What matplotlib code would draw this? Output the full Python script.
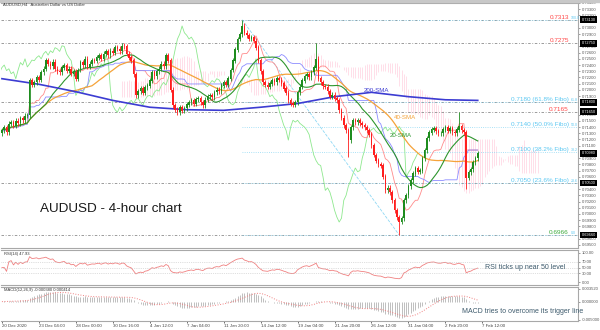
import numpy as np
import pandas as pd
import matplotlib
matplotlib.use("Agg")
import matplotlib.pyplot as plt
import matplotlib.transforms as mtransforms

plt.rcParams['font.family'] = ['Liberation Sans', 'DejaVu Sans']

# 4-hour closes, bar 0 = 20 Dec 2020
CLOSES = [
    0.7135, 0.7140, 0.7132, 0.7145, 0.7148, 0.7142, 0.7150, 0.7146, 0.7154, 0.7151,
    0.7158, 0.7159, 0.7215, 0.7208, 0.7212, 0.7220, 0.7216, 0.7228, 0.7234, 0.7247,
    0.7242, 0.7238, 0.7245, 0.7234, 0.7230, 0.7228, 0.7236, 0.7240, 0.7231, 0.7234,
    0.7226, 0.7229, 0.7218, 0.7232, 0.7244, 0.7240, 0.7250, 0.7237, 0.7242, 0.7248,
    0.7247, 0.7252, 0.7255, 0.7250, 0.7258, 0.7262, 0.7256, 0.7263, 0.7260, 0.7268,
    0.7266, 0.7262, 0.7271, 0.7270, 0.7258, 0.7252, 0.7247, 0.7225, 0.7191, 0.7198,
    0.7202, 0.7195, 0.7204, 0.7207, 0.7215, 0.7228, 0.7222, 0.7230, 0.7234, 0.7242,
    0.7238, 0.7255, 0.7247, 0.7200, 0.7175, 0.7168, 0.7164, 0.7172, 0.7166, 0.7170,
    0.7176, 0.7180, 0.7183, 0.7178, 0.7185, 0.7186, 0.7180, 0.7175, 0.7184, 0.7190,
    0.7191, 0.7188, 0.7196, 0.7200, 0.7198, 0.7207, 0.7212, 0.7208, 0.7218, 0.7232,
    0.7247, 0.7265, 0.7282, 0.7290, 0.7303, 0.7292, 0.7288, 0.7282, 0.7285, 0.7279,
    0.7268, 0.7247, 0.7230, 0.7212, 0.7208, 0.7205, 0.7210, 0.7215, 0.7212, 0.7218,
    0.7216, 0.7210, 0.7202, 0.7195, 0.7183, 0.7178, 0.7176, 0.7180, 0.7196, 0.7205,
    0.7215, 0.7222, 0.7225, 0.7220, 0.7228, 0.7236, 0.7250, 0.7218, 0.7212, 0.7206,
    0.7205, 0.7198, 0.7189, 0.7192, 0.7186, 0.7183, 0.7167, 0.7155, 0.7143, 0.7135,
    0.7119, 0.7140, 0.7151, 0.7148, 0.7151, 0.7146, 0.7143, 0.7140, 0.7135, 0.7128,
    0.7111, 0.7095, 0.7086, 0.7080, 0.7078, 0.7060, 0.7038, 0.7042, 0.7035, 0.7022,
    0.7006, 0.6995, 0.6987, 0.6993, 0.7022, 0.7030, 0.7045, 0.7054, 0.7065, 0.7074,
    0.7068, 0.7070, 0.7090, 0.7103, 0.7122, 0.7131, 0.7136, 0.7138, 0.7133, 0.7130,
    0.7130, 0.7136, 0.7140, 0.7134, 0.7138, 0.7132, 0.7130, 0.7136, 0.7141, 0.7135,
    0.7132, 0.7058, 0.7067, 0.7072, 0.7083, 0.7090, 0.7098,
]
FIRST_OPEN = 0.7130
WICK = 0.0004
HIGH_SPIKES = {104: 0.7313, 136: 0.7275, 198: 0.7165}
LOW_SPIKES = {150: 0.7091, 172: 0.6966, 201: 0.7041}

# 200-SMA read at a few bars
SMA200_BARS = [0, 16, 32, 48, 64, 80, 96, 112, 128, 144, 160, 176, 192, 206]
SMA200_VALUES = [0.7218, 0.7209, 0.7197, 0.7183, 0.7172, 0.7168, 0.7167,
                 0.7172, 0.7178, 0.7189, 0.7196, 0.7189, 0.7184, 0.7183]

TICK_LABELS = ['20 Dec 2020', '23 Dec 04:00', '28 Dec 00:00', '30 Dec 16:00',
               '4 Jan 12:00', '7 Jan 04:00', '11 Jan 20:00', '14 Jan 12:00',
               '19 Jan 04:00', '21 Jan 20:00', '26 Jan 12:00', '31 Jan 04:00',
               '2 Feb 20:00', '7 Feb 12:00']

GRAY_LEVELS = [0.7313, 0.7275, 0.7180, 0.7165, 0.7050, 0.6966]
FIBO_LEVELS = [0.7313, 0.7180, 0.7140, 0.7100, 0.7050, 0.6966]
FIBO_START = 104
LEVEL_TEXTS = [
    (0.7313, '0.7313', 'red', '100.0'),
    (0.7275, '0.7275', 'red', ''),
    (0.7180, '0.7180 (61.8% Fibo)', 'cyan', '61.8'),
    (0.7165, '0.7165', 'red', ''),
    (0.7140, '0.7140 (50.0% Fibo)', 'cyan', '50.0'),
    (0.7100, '0.7100 (38.2% Fibo)', 'cyan', '38.2'),
    (0.7050, '0.7050 (23.6% Fibo)', 'cyan', '23.6'),
    (0.6966, '0.6966', 'green', '0.0'),
]
BOX_LEVELS = [0.7313, 0.7275, 0.7180, 0.7165, 0.7098, 0.7050, 0.6966]

COLORS = {'red': '#ff4646', 'cyan': '#5cc8f2', 'green': '#3caa3c'}
BULL = '#1e8c1e'
BEAR = '#ff1e1e'

closes = np.array(CLOSES)
n = len(closes)
bars = np.arange(n)
opens = np.concatenate([[FIRST_OPEN], closes[:-1]])
highs = np.maximum(opens, closes) + WICK
lows = np.minimum(opens, closes) - WICK
for b, v in HIGH_SPIKES.items():
    highs[b] = v
for b, v in LOW_SPIKES.items():
    lows[b] = v

s_close = pd.Series(closes)
s_high = pd.Series(highs)
s_low = pd.Series(lows)
sma20 = s_close.rolling(20, min_periods=1).mean()
sma40 = s_close.rolling(40, min_periods=1).mean()
tenkan = (s_high.rolling(9, min_periods=1).max() + s_low.rolling(9, min_periods=1).min()) / 2
kijun = (s_high.rolling(26, min_periods=1).max() + s_low.rolling(26, min_periods=1).min()) / 2
span_a = (tenkan + kijun) / 2
span_b = (s_high.rolling(52, min_periods=1).max() + s_low.rolling(52, min_periods=1).min()) / 2

delta = s_close.diff().fillna(0)
gain = delta.clip(lower=0).ewm(alpha=1 / 14, adjust=False).mean()
loss = (-delta.clip(upper=0)).ewm(alpha=1 / 14, adjust=False).mean()
rsi = 100 - 100 / (1 + gain / loss.replace(0, np.nan))
rsi = rsi.fillna(50)

macd = s_close.ewm(span=12, adjust=False).mean() - s_close.ewm(span=26, adjust=False).mean()
signal = macd.rolling(9, min_periods=1).mean()

fig = plt.figure(figsize=(6, 3.3), dpi=100)
W, H = 600, 330


def px_axes(x0, y0, x1, y1):
    return fig.add_axes([x0 / W, 1 - y1 / H, (x1 - x0) / W, (y1 - y0) / H])


ax = px_axes(1, 3, 578, 248)
ax_rsi = px_axes(1, 250, 578, 285)
ax_macd = px_axes(1, 287, 578, 321)

XMIN, XMAX = -0.4, 249.4
for a in (ax, ax_rsi, ax_macd):
    a.set_xlim(XMIN, XMAX)
    for sp in a.spines.values():
        sp.set_color('#a8a8a8')
        sp.set_linewidth(0.8)
    a.spines['left'].set_visible(False)
    a.yaxis.tick_right()
    a.tick_params(axis='y', labelsize=3, colors='#555555', length=1.5, width=0.4, pad=1)
    a.tick_params(axis='x', length=0)
    a.set_xticks([])

# ---- main panel
ax.set_ylim(0.69451, 0.73387)

# cloud
cloud_x = bars + 26
ax.vlines(cloud_x[26:], span_a[26:], span_b[26:], color='#ffd2e0', lw=0.5, zorder=1)

for lv in GRAY_LEVELS:
    ax.axhline(lv, color='#8c8c8c', lw=0.6, ls=(0, (3, 2, 1, 2)), zorder=2)
for lv in FIBO_LEVELS:
    ax.plot([FIBO_START, XMAX], [lv, lv], color='#8fd8f4', lw=0.6, ls=':', zorder=2)
ax.plot([FIBO_START, 172], [FIBO_LEVELS[0], FIBO_LEVELS[-1]], color='#8fd8f4', lw=0.6, ls='--', zorder=2)

ax.plot(bars - 26, closes, color='#8ee88e', lw=0.6, zorder=3)
ax.plot(bars, tenkan, color='#ff8c8c', lw=0.6, zorder=3)
ax.plot(bars, kijun, color='#8c8cff', lw=0.6, zorder=3)
ax.plot(bars, sma40, color='#f5a33a', lw=0.9, zorder=3)
ax.plot(bars, sma20, color='#2e962e', lw=0.8, zorder=3)
ax.plot(SMA200_BARS, SMA200_VALUES, color='#3c3cd2', lw=1.2, zorder=3)

colors = np.where(closes >= opens, BULL, BEAR)
ax.vlines(bars, lows, highs, color=colors, lw=0.6, zorder=4)
ax.bar(bars, np.abs(closes - opens) + 0.00004, bottom=np.minimum(opens, closes),
       width=0.7, color=colors, linewidth=0, zorder=4)

price_ticks = [v for v in np.arange(0.6950, 0.7340, 0.0010)
               if min(abs(v - b) for b in BOX_LEVELS) > 0.0005]
ax.set_yticks(price_ticks)
ax.set_yticklabels(['%.5f' % v for v in price_ticks])

for lv, txt, col, suf in LEVEL_TEXTS:
    ax.text(245.5, lv, txt, color=COLORS[col], fontsize=4.6, ha='right', va='bottom', zorder=5)
    if suf:
        ax.text(246.3, lv, suf, color=COLORS['cyan'], fontsize=2.6, ha='left', va='bottom', zorder=5)

trans = mtransforms.blended_transform_factory(ax.transAxes, ax.transData)
for lv in BOX_LEVELS:
    ax.text(1.006, lv, '%.5f' % lv, transform=trans, fontsize=2.8, color='white', va='center',
            ha='left', zorder=6, bbox=dict(boxstyle='square,pad=0.35', fc='black', ec='none'))

ax.text(156.7, 0.7199, '200-SMA', color='#3c3cd2', fontsize=4.4, va='center', zorder=5)
ax.text(169.5, 0.7156, '40-SMA', color='#f5a33a', fontsize=4.4, va='center', zorder=5)
ax.text(168.0, 0.7127, '20-SMA', color='#2e962e', fontsize=4.4, va='center', zorder=5)

fig.text(40 / W, 1 - 209 / H, 'AUDUSD - 4-hour chart', fontsize=9.7, color='#1a1a1a',
         ha='left', va='center')
fig.text(3 / W, 1 - 6 / H, 'AUDUSD,H4   Australian Dollar vs US Dollar', fontsize=3, color='#333333')

# ---- RSI panel
ax_rsi.set_ylim(-10, 110)
ax_rsi.plot(bars, rsi, color='#f08080', lw=0.6)
for lv in (70, 50, 30):
    ax_rsi.axhline(lv, color='#c0c0c0', lw=0.5, ls=':')
ax_rsi.set_yticks([0, 30, 50, 70, 100])
ax_rsi.set_yticklabels(['0.00', '30.00', '50.00', '70.00', '100.00'])
ax_rsi.text(1, 104, 'RSI(14) %.2f' % rsi.iloc[-1], fontsize=3, color='#333333', va='top')
ax_rsi.text(209, 50, 'RSI ticks up near 50 level', fontsize=5, color='#3d5a6c', va='center')

# ---- MACD panel
ax_macd.set_ylim(-0.0053, 0.0040)
ax_macd.vlines(bars, 0, macd, color='#b4b4b4', lw=0.6)
ax_macd.plot(bars, signal, color='#f08080', lw=0.7, ls=':')
ax_macd.set_yticks([-0.005, 0.0, 0.0035])
ax_macd.set_yticklabels(['-0.005000', '0.000000', '0.003520'])
ax_macd.text(1, 0.0037, 'MACD(12,26,9) %.6f %.6f' % (macd.iloc[-1], signal.iloc[-1]),
             fontsize=3, color='#333333', va='top')
ax_macd.text(199, -0.0028, 'MACD tries to overcome its trigger line', fontsize=5,
             color='#3d5a6c', va='center')

ticks = np.arange(len(TICK_LABELS)) * 16
ax_macd.set_xticks(ticks)
ax_macd.set_xticklabels(TICK_LABELS, fontsize=3.2, color='#444444', ha='left')
ax_macd.tick_params(axis='x', length=1.5, width=0.4, pad=1)

# top strip
fig.patches.append(plt.Rectangle((0, 1 - 2 / H), 1, 2 / H, transform=fig.transFigure,
                                 color='#c8c8c8', zorder=0))

fig.savefig('out.png', dpi=100)
